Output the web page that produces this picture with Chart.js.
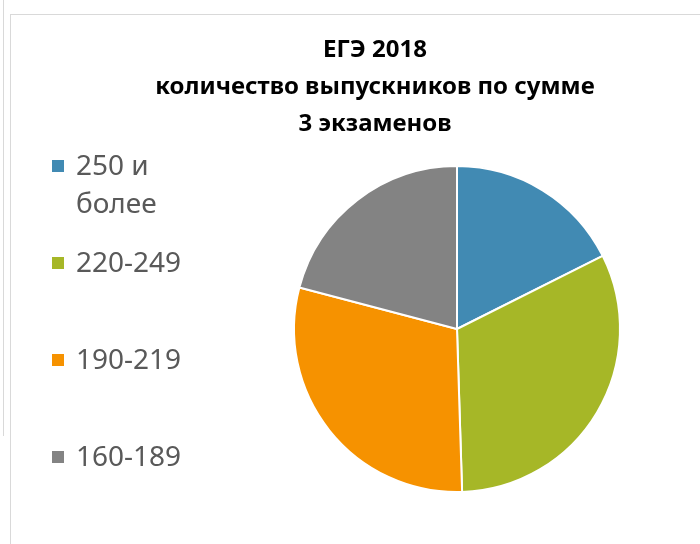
<!DOCTYPE html>
<html>
<head>
<meta charset="utf-8">
<script src="https://cdn.jsdelivr.net/npm/chart.js@4"></script>
<style>
  body { margin: 0; background: #fff; }
  #wrap { position: relative; width: 700px; height: 544px; overflow: hidden; }
  #outer { position: absolute; left: 3px; top: 0; height: 436px; border-left: 1px solid #d9d9d9; }
  #frame { position: absolute; left: 10px; top: 14px; width: 720px; height: 560px; border: 1px solid #d9d9d9; }
  canvas { position: absolute; left: 0; top: 0; }
</style>
</head>
<body>
<div id="wrap">
  <div id="outer"></div>
  <div id="frame"></div>
  <canvas id="egeChart" width="700" height="544"></canvas>
</div>
<script>
const titleLines = ['ЕГЭ 2018', 'количество выпускников по сумме', '3 экзаменов'];
const categories = [['250 и', 'более'], ['220-249'], ['190-219'], ['160-189']];
const shares = [17.6, 31.9, 29.6, 20.9];
const colors = ['#418AB3', '#A6B727', '#F69200', '#838383'];

// title and legend drawn by hand to get the Excel-like layout
const sideParts = {
  id: 'sideParts',
  afterDraw(chart) {
    const ctx = chart.ctx;
    ctx.save();
    ctx.fillStyle = '#000';
    ctx.font = 'bold 24px "Noto Sans"';
    ctx.textAlign = 'center';
    ctx.textBaseline = 'middle';
    titleLines.forEach((t, i) => ctx.fillText(t, 375, 50 + i * 37));

    ctx.font = '28px "Noto Sans"';
    ctx.textAlign = 'left';
    chart.data.labels.forEach((lab, i) => {
      const y = 166 + i * 97;
      ctx.fillStyle = chart.data.datasets[0].backgroundColor[i];
      ctx.fillRect(52, y - 6, 12, 12);
      ctx.fillStyle = '#595959';
      lab.forEach((line, j) => ctx.fillText(line, 76, y + j * 38 + 1));
    });
    ctx.restore();
  }
};

const egeChart = document.getElementById('egeChart');
new Chart(egeChart, {
  type: 'pie',
  data: {
    labels: categories,
    datasets: [{
      data: shares,
      backgroundColor: colors,
      borderColor: '#fff',
      borderWidth: 2
    }]
  },
  options: {
    responsive: false,
    animation: false,
    layout: {
      padding: { left: 293, right: 79, top: 165, bottom: 51 }
    },
    plugins: {
      tooltip: { enabled: false },
      legend: { display: false },
      title: { display: false }
    }
  },
  plugins: [sideParts]
});
</script>
</body>
</html>
